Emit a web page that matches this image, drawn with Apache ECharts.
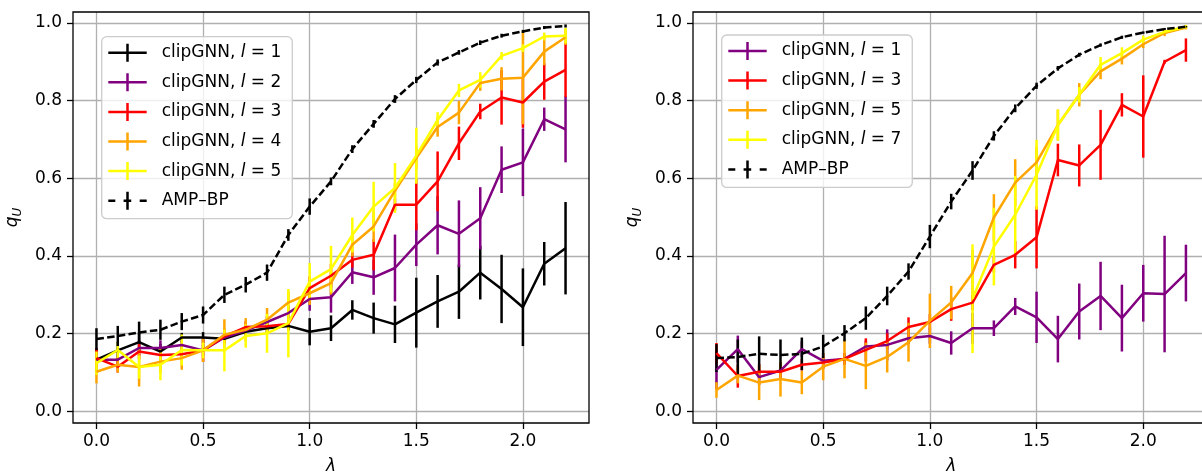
<!DOCTYPE html>
<html>
<head>
<meta charset="utf-8">
<script src="https://cdn.jsdelivr.net/npm/echarts@6/dist/echarts.min.js"></script>
<style>
  html, body { margin: 0; padding: 0; background: #ffffff; }
  #chart { width: 1202px; height: 474px; }
</style>
</head>
<body>
<div id="chart"></div>
<script>
// ---- data ---------------------------------------------------------------
const lambdas = [0.0, 0.1, 0.2, 0.3, 0.4, 0.5, 0.6, 0.7, 0.8, 0.9, 1.0, 1.1,
                 1.2, 1.3, 1.4, 1.5, 1.6, 1.7, 1.8, 1.9, 2.0, 2.1, 2.2];
const xTicks = [0.0, 0.5, 1.0, 1.5, 2.0];
const yTicks = [0.0, 0.2, 0.4, 0.6, 0.8, 1.0];

// left panel: clipGNN with l = 1..5, and AMP-BP
const leftL1    = [0.133, 0.157, 0.178, 0.154, 0.190, 0.190, 0.187, 0.205, 0.214, 0.220, 0.205, 0.214,
                   0.261, 0.240, 0.224, 0.254, 0.283, 0.308, 0.357, 0.315, 0.268, 0.380, 0.420];
const leftL1Err = [0.030, 0.022, 0.025, 0.020, 0.012, 0.014, 0.010, 0.010, 0.012, 0.012, 0.035, 0.033,
                   0.025, 0.040, 0.048, 0.090, 0.068, 0.070, 0.069, 0.088, 0.100, 0.056, 0.119];
const leftL2    = [0.133, 0.133, 0.163, 0.163, 0.171, 0.157, 0.190, 0.208, 0.230, 0.253, 0.289, 0.294,
                   0.358, 0.345, 0.369, 0.429, 0.479, 0.457, 0.497, 0.622, 0.641, 0.752, 0.726];
const leftL2Err = [0.020, 0.015, 0.020, 0.020, 0.015, 0.015, 0.012, 0.012, 0.015, 0.020, 0.030, 0.040,
                   0.030, 0.045, 0.086, 0.055, 0.075, 0.086, 0.080, 0.060, 0.087, 0.030, 0.085];
const leftL3    = [0.137, 0.115, 0.154, 0.145, 0.147, 0.157, 0.193, 0.217, 0.219, 0.225, 0.317, 0.349,
                   0.390, 0.403, 0.532, 0.532, 0.592, 0.690, 0.772, 0.808, 0.795, 0.849, 0.879];
const leftL3Err = [0.025, 0.015, 0.020, 0.020, 0.015, 0.030, 0.020, 0.015, 0.015, 0.015, 0.030, 0.030,
                   0.020, 0.040, 0.015, 0.066, 0.077, 0.043, 0.020, 0.070, 0.065, 0.047, 0.070];
const leftL4    = [0.102, 0.120, 0.114, 0.128, 0.137, 0.157, 0.197, 0.210, 0.236, 0.280, 0.304, 0.330,
                   0.429, 0.476, 0.568, 0.652, 0.732, 0.769, 0.845, 0.856, 0.859, 0.926, 0.963];
const leftL4Err = [0.030, 0.020, 0.050, 0.030, 0.030, 0.030, 0.040, 0.030, 0.030, 0.030, 0.030, 0.030,
                   0.030, 0.040, 0.020, 0.030, 0.025, 0.030, 0.020, 0.030, 0.120, 0.035, 0.020];
const leftL5    = [0.124, 0.158, 0.114, 0.120, 0.158, 0.157, 0.157, 0.194, 0.201, 0.227, 0.334, 0.366,
                   0.454, 0.527, 0.575, 0.658, 0.750, 0.826, 0.853, 0.915, 0.935, 0.965, 0.967];
const leftL5Err = [0.030, 0.020, 0.030, 0.040, 0.040, 0.020, 0.054, 0.030, 0.050, 0.088, 0.048, 0.060,
                   0.045, 0.064, 0.064, 0.072, 0.020, 0.017, 0.020, 0.010, 0.010, 0.010, 0.020];
const leftAmp    = [0.186, 0.194, 0.203, 0.210, 0.231, 0.248, 0.300, 0.326, 0.357, 0.454, 0.527, 0.592,
                    0.675, 0.740, 0.804, 0.853, 0.898, 0.924, 0.949, 0.967, 0.978, 0.988, 0.992];
const leftAmpErr = [0.028, 0.026, 0.028, 0.026, 0.022, 0.022, 0.021, 0.020, 0.021, 0.015, 0.021, 0.010,
                    0.010, 0.010, 0.010, 0.008, 0.008, 0.006, 0.006, 0.005, 0.004, 0.004, 0.004];

// right panel: clipGNN with l = 1, 3, 5, 7, and AMP-BP
const rightL1    = [0.107, 0.160, 0.088, 0.105, 0.160, 0.130, 0.135, 0.167, 0.171, 0.188, 0.194, 0.176,
                    0.214, 0.214, 0.270, 0.242, 0.186, 0.257, 0.297, 0.240, 0.304, 0.302, 0.356];
const rightL1Err = [0.050, 0.035, 0.020, 0.020, 0.020, 0.020, 0.015, 0.015, 0.040, 0.015, 0.020, 0.030,
                    0.040, 0.020, 0.022, 0.066, 0.060, 0.072, 0.088, 0.086, 0.073, 0.150, 0.073];
const rightL3    = [0.150, 0.091, 0.102, 0.102, 0.120, 0.126, 0.135, 0.158, 0.181, 0.217, 0.230, 0.263,
                    0.280, 0.377, 0.403, 0.448, 0.647, 0.633, 0.686, 0.789, 0.759, 0.900, 0.930];
const rightL3Err = [0.026, 0.030, 0.020, 0.020, 0.015, 0.015, 0.015, 0.030, 0.020, 0.025, 0.020, 0.030,
                    0.020, 0.020, 0.035, 0.080, 0.042, 0.054, 0.090, 0.030, 0.106, 0.005, 0.030];
const rightL5    = [0.055, 0.092, 0.074, 0.083, 0.074, 0.115, 0.135, 0.117, 0.140, 0.178, 0.233, 0.280,
                    0.356, 0.499, 0.589, 0.641, 0.737, 0.815, 0.875, 0.908, 0.945, 0.974, 0.988];
const rightL5Err = [0.020, 0.020, 0.045, 0.045, 0.030, 0.035, 0.050, 0.060, 0.040, 0.050, 0.070, 0.043,
                    0.060, 0.060, 0.060, 0.040, 0.040, 0.030, 0.020, 0.015, 0.010, 0.008, 0.005];
const rightL7    = [null, null, null, null, null, null, null, null, null, null, null, null,
                    0.290, 0.424, 0.506, 0.609, 0.737, 0.815, 0.892, 0.922, 0.957, 0.977, 0.990];
const rightL7Err = [null, null, null, null, null, null, null, null, null, null, null, null,
                    0.140, 0.100, 0.100, 0.090, 0.040, 0.020, 0.020, 0.015, 0.010, 0.005, 0.005];
const rightAmp    = [0.137, 0.140, 0.148, 0.145, 0.148, 0.167, 0.201, 0.240, 0.297, 0.360, 0.450, 0.540,
                     0.620, 0.709, 0.780, 0.838, 0.883, 0.918, 0.943, 0.963, 0.975, 0.984, 0.990];
const rightAmpErr = [0.036, 0.045, 0.045, 0.040, 0.042, 0.030, 0.021, 0.030, 0.024, 0.021, 0.030, 0.020,
                     0.024, 0.012, 0.010, 0.008, 0.006, 0.005, 0.004, 0.004, 0.003, 0.003, 0.002];

// ---- styling ------------------------------------------------------------
const FONT = 'DejaVu Sans';
const FS = 17;
const LW = 2.5;
const DASH = [7.5, 3.3];
const COLORS = { black: '#000000', purple: '#800080', red: '#ff0000', orange: '#ffa500', yellow: '#ffff00' };

// legend handles: horizontal line with a vertical error bar through it
const ICON_SOLID = 'path://M0,7.75h38.4v2.5h-38.4z M17.95,0h2.5v18h-2.5z';
const ICON_DASHED = 'path://M0,7.75h7v2.5h-7z M15.3,7.75h7.6v2.5h-7.6z M31.4,7.75h7v2.5h-7z M17.95,0h2.5v18h-2.5z';

const panels = [
  [
    { key: 'a1', text: 'clip', l: '1', color: COLORS.black,  values: leftL1,  errors: leftL1Err },
    { key: 'a2', text: 'clip', l: '2', color: COLORS.purple, values: leftL2,  errors: leftL2Err },
    { key: 'a3', text: 'clip', l: '3', color: COLORS.red,    values: leftL3,  errors: leftL3Err },
    { key: 'a4', text: 'clip', l: '4', color: COLORS.orange, values: leftL4,  errors: leftL4Err },
    { key: 'a5', text: 'clip', l: '5', color: COLORS.yellow, values: leftL5,  errors: leftL5Err },
    { key: 'aAmp', text: 'amp', color: COLORS.black, values: leftAmp, errors: leftAmpErr, dashed: true }
  ],
  [
    { key: 'b1', text: 'clip', l: '1', color: COLORS.purple, values: rightL1, errors: rightL1Err },
    { key: 'b3', text: 'clip', l: '3', color: COLORS.red,    values: rightL3, errors: rightL3Err },
    { key: 'b5', text: 'clip', l: '5', color: COLORS.orange, values: rightL5, errors: rightL5Err },
    { key: 'b7', text: 'clip', l: '7', color: COLORS.yellow, values: rightL7, errors: rightL7Err },
    { key: 'bAmp', text: 'amp', color: COLORS.black, values: rightAmp, errors: rightAmpErr, dashed: true }
  ]
];

const legendText = {};
panels.forEach(list => list.forEach(s => {
  legendText[s.key] = s.text === 'amp'
    ? '{g| }{t|AMP–BP}'
    : '{g| }{t|clipGNN, }{i|l}{t| = ' + s.l + '}';
}));

// the right panel runs a few pixels past the page edge
const gridRects = [
  { left: 73,  top: 12, width: 516,   height: 411 },
  { left: 693, top: 12, width: 516.4, height: 411 }
];

function errorBar(params, api) {
  const x = api.value(0), y = api.value(1), e = api.value(2);
  const lo = api.coord([x, y - e]);
  const hi = api.coord([x, y + e]);
  return {
    type: 'line',
    shape: { x1: lo[0], y1: lo[1], x2: hi[0], y2: hi[1] },
    style: { stroke: api.visual('color'), lineWidth: LW }
  };
}

const series = [];
panels.forEach((list, p) => {
  // all error bars sit beneath all curves
  list.forEach(s => {
    const pts = [];
    lambdas.forEach((x, i) => { if (s.values[i] != null) pts.push([x, s.values[i], s.errors[i]]); });
    series.push({
      type: 'custom', name: s.key + '-err', xAxisIndex: p, yAxisIndex: p,
      z: 2, silent: true, animation: false,
      itemStyle: { color: s.color },
      encode: { x: 0, y: 1 },
      renderItem: errorBar,
      data: pts
    });
  });
  list.forEach(s => {
    const pts = [];
    lambdas.forEach((x, i) => { if (s.values[i] != null) pts.push([x, s.values[i]]); });
    series.push({
      type: 'line', name: s.key, xAxisIndex: p, yAxisIndex: p,
      z: 3, silent: true, animation: false,
      showSymbol: false, symbol: 'none',
      color: s.color,
      lineStyle: { color: s.color, width: LW, type: s.dashed ? DASH : 'solid' },
      data: pts
    });
  });
});

const tickLabelStyle = { color: '#000', fontFamily: FONT, fontSize: FS };

const xAxes = gridRects.map((g, p) => ({
  type: 'value', gridIndex: p, min: -0.11, max: 2.31,
  axisLine: { show: false, onZero: false },
  axisTick: { show: true, length: 6, customValues: xTicks, lineStyle: { color: '#000', width: 1.3 } },
  axisLabel: Object.assign({ customValues: xTicks, margin: 10, formatter: v => v.toFixed(1) }, tickLabelStyle),
  splitLine: { show: true, lineStyle: { color: '#b0b0b0', width: 1.3 } },
  name: 'λ', nameLocation: 'middle', nameGap: 35,
  nameTextStyle: { color: '#000', fontFamily: FONT, fontSize: FS, fontStyle: 'italic' }
}));

const yAxes = gridRects.map((g, p) => ({
  type: 'value', gridIndex: p, min: -0.03, max: 1.028,
  axisLine: { show: false, onZero: false },
  axisTick: { show: true, length: 6, customValues: yTicks, lineStyle: { color: '#000', width: 1.3 } },
  axisLabel: Object.assign({ customValues: yTicks, margin: 11, formatter: v => v.toFixed(1) }, tickLabelStyle),
  splitLine: { show: true, lineStyle: { color: '#b0b0b0', width: 1.3 } },
  name: '{q|q}{u|U}', nameLocation: 'middle', nameGap: 49, nameRotate: 90,
  nameTextStyle: {
    rich: {
      q: { fontFamily: FONT, fontSize: FS, fontStyle: 'italic', color: '#000', lineHeight: 22 },
      u: { fontFamily: FONT, fontSize: 12, fontStyle: 'italic', color: '#000', lineHeight: 10, verticalAlign: 'bottom' }
    }
  }
}));

const legendRich = {
  g: { width: 10 },
  t: { fontFamily: FONT, fontSize: FS, color: '#000', lineHeight: 18 },
  i: { fontFamily: FONT, fontSize: FS, color: '#000', lineHeight: 18, fontStyle: 'italic' }
};
const legendPos = [{ left: 101.7, top: 36.7 }, { left: 721.7, top: 35 }];

const legends = panels.map((list, p) => ({
  orient: 'vertical', left: legendPos[p].left, top: legendPos[p].top,
  data: list.map(s => ({ name: s.key, icon: s.dashed ? ICON_DASHED : ICON_SOLID })),
  itemWidth: 38.4, itemHeight: 18, itemGap: 11.6,
  padding: [7, 11, 9, 6.6],
  backgroundColor: 'rgba(255,255,255,0.8)',
  borderColor: '#cccccc', borderWidth: 1.3, borderRadius: 5,
  itemStyle: { borderWidth: 0 },
  selectedMode: false,
  formatter: name => legendText[name],
  textStyle: { rich: legendRich }
}));

const frames = gridRects.map(g => ({
  type: 'rect', silent: true, z: 100,
  shape: { x: g.left, y: g.top, width: g.width, height: g.height },
  style: { fill: 'transparent', stroke: '#000', lineWidth: 1.3 }
}));

const chart = echarts.init(document.getElementById('chart'), null, { renderer: 'canvas' });
chart.setOption({
  animation: false,
  backgroundColor: '#ffffff',
  grid: gridRects.map(g => Object.assign({ containLabel: false, outerBoundsMode: 'none' }, g)),
  xAxis: xAxes,
  yAxis: yAxes,
  legend: legends,
  graphic: frames,
  series: series
});
</script>
</body>
</html>
